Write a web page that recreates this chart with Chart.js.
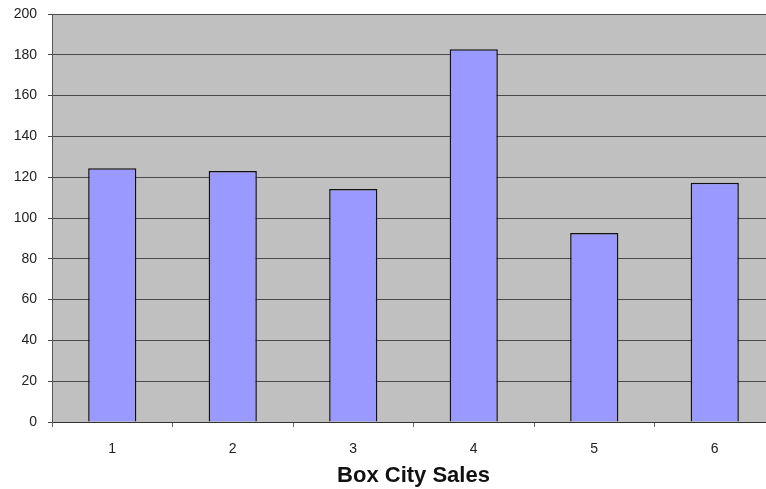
<!DOCTYPE html>
<html>
<head>
<meta charset="utf-8">
<script src="https://cdn.jsdelivr.net/npm/chart.js@4/dist/chart.umd.min.js"></script>
<style>
  html, body { margin: 0; padding: 0; background: #ffffff; overflow: hidden; }
  #wrap { position: relative; width: 776px; height: 489px; }
</style>
</head>
<body>
<div id="wrap"><canvas id="c"></canvas></div>
<script>
// Weekly sales per store
const categories = ['1', '2', '3', '4', '5', '6'];
const sales = [124.4, 123.0, 114.2, 182.7, 92.6, 117.3];
const yTicks = [0, 20, 40, 60, 80, 100, 120, 140, 160, 180, 200];
const axisTitle = 'Box City Sales';

// Grey plot-area background behind the bars
const plotBackground = {
  id: 'plotBackground',
  beforeDraw(chart) {
    const { ctx, chartArea: a } = chart;
    ctx.save();
    ctx.fillStyle = '#c0c0c0';
    ctx.fillRect(a.left, a.top, a.right - a.left, a.bottom - a.top);
    ctx.restore();
  }
};

new Chart(document.getElementById('c'), {
  type: 'bar',
  data: {
    labels: categories,
    datasets: [{
      data: sales,
      backgroundColor: '#9999ff',
      borderColor: '#111111',
      borderWidth: 1.5,
      barPercentage: 0.4,
      categoryPercentage: 1.0
    }]
  },
  options: {
    responsive: true,
    maintainAspectRatio: false,
    animation: false,
    layout: { padding: { top: 14, right: 1, left: 0, bottom: 0 } },
    plugins: {
      legend: { display: false },
      tooltip: { enabled: false }
    },
    scales: {
      x: {
        offset: true,
        grid: {
          offset: true,
          drawOnChartArea: false,
          drawTicks: true,
          tickLength: 5,
          color: '#666666'
        },
        border: { display: true, color: '#333333', width: 1 },
        ticks: {
          color: '#222222',
          font: { family: 'Liberation Sans, Arial, sans-serif', size: 14 },
          padding: 14
        },
        title: {
          display: true,
          text: axisTitle,
          color: '#111111',
          font: { family: 'Liberation Sans, Arial, sans-serif', size: 22, weight: 'bold' },
          padding: { top: 8, bottom: 0 }
        },
        afterFit(scale) { scale.height = 67; scale.paddingLeft = 0; scale.paddingRight = 0; }
      },
      y: {
        min: 0,
        max: 200,
        afterBuildTicks(scale) { scale.ticks = yTicks.map(v => ({ value: v })); },
        grid: {
          color: '#4a4a4a',
          lineWidth: 1,
          drawTicks: true,
          tickLength: 4
        },
        border: { display: true, color: '#555555', width: 1 },
        ticks: {
          color: '#222222',
          font: { family: 'Liberation Sans, Arial, sans-serif', size: 14 },
          padding: 11
        },
        afterFit(scale) { scale.width = 52; scale.paddingTop = 0; scale.paddingBottom = 0; }
      }
    }
  },
  plugins: [plotBackground]
});
</script>
</body>
</html>
